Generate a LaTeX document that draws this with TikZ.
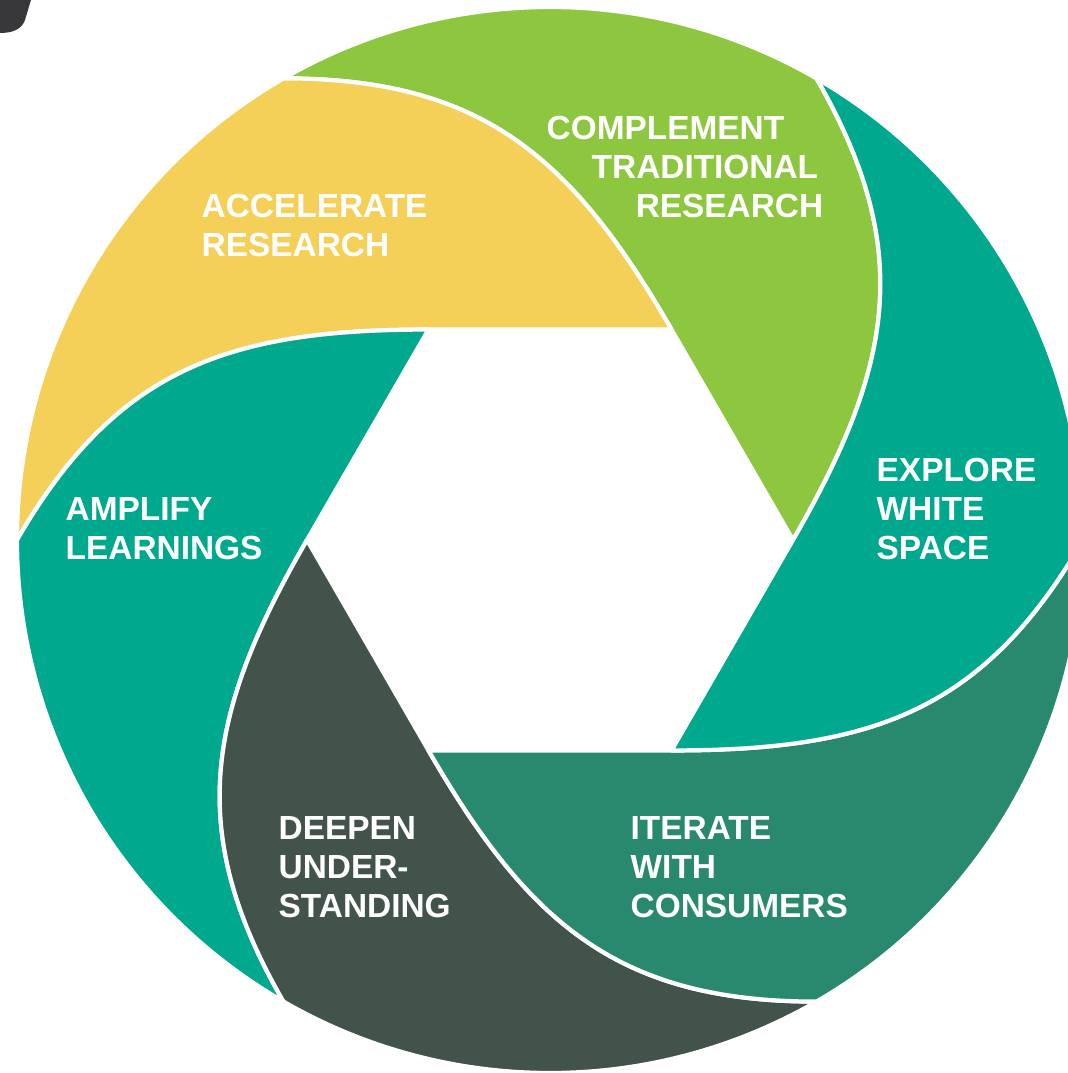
\documentclass[tikz,border=0pt]{standalone}
\usepackage{fontspec}
\setmainfont{Liberation Sans}

\definecolor{bladegreen}{HTML}{8DC63F}
\definecolor{bladeyellow}{HTML}{F5D058}
\definecolor{bladeteal}{HTML}{00A88E}
\definecolor{bladegrey}{HTML}{42534B}
\definecolor{bladepine}{HTML}{29896E}
\definecolor{cornerdark}{HTML}{38383A}

\begin{document}
\begin{tikzpicture}[x=0.01cm, y=0.01cm,
    blade/.style={draw=white, line width=1.2pt, line join=round},
    bladetext/.style={text=white, font=\bfseries\fontsize{9.5}{11.1}\selectfont,
      align=left, anchor=north west, inner sep=0pt}]
  \path[use as bounding box] (-550,-533) rectangle (518,540);
  \clip (-550,-533) rectangle (518,540);

  % corners of the inner hexagon and ends of the blades on the rim
  \foreach \a in {0,60,...,300} {
    \coordinate (v\a) at (\a:243);
    \coordinate (e\a) at (\a:533);
  }

  % six blades, each one from its hexagon side out to the rim
  \foreach \a/\b/\c/\vb/\col
    [evaluate=\a as \o using \a+60, evaluate=\a as \i using \a-60]
    in {0/60/120/60/bladegreen, 60/120/180/120/bladeyellow,
      120/180/240/180/bladeteal, 180/240/300/240/bladegrey,
      240/300/360/300/bladepine, 300/360/420/0/bladeteal}
  {
    \filldraw[blade, fill=\col] (v\vb) -- (v\a)
      to[out=\o, in=\i, looseness=1.1] (e\vb)
      arc[start angle=\b, end angle=\c, radius=533]
      to[out=\a, in=\c, looseness=1.1] (v\vb) -- cycle;
  }

  % dark corner at the top left
  \fill[cornerdark] (-550,540) -- (-519,540) -- (-525,520)
    to[out=-110, in=0] (-550,507) -- cycle;

  \node[bladetext] (complement) at (-4,425)
    {COMPLEMENT\\\hspace*{0.45cm}TRADITIONAL\\\hspace*{0.89cm}RESEARCH};
  \node[bladetext] (accelerate) at (-349,347) {ACCELERATE\\RESEARCH};
  \node[bladetext] (explore) at (326,83) {EXPLORE\\WHITE\\SPACE};
  \node[bladetext] (amplify) at (-485,43) {AMPLIFY\\LEARNINGS};
  \node[bladetext] (deepen) at (-272,-276) {DEEPEN\\UNDER-\\STANDING};
  \node[bladetext] (iterate) at (80,-276) {ITERATE\\WITH\\CONSUMERS};
\end{tikzpicture}
\end{document}
